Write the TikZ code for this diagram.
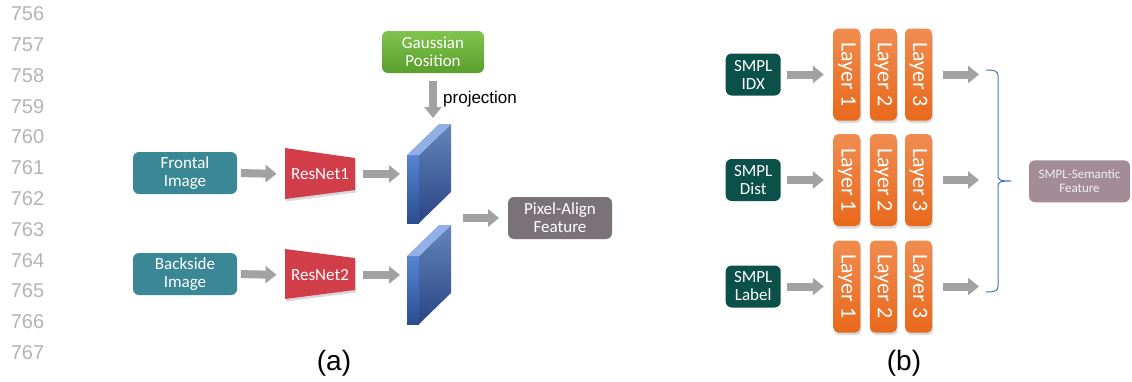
\documentclass[tikz,border=0pt]{standalone}
\usepackage{fontspec}
\setmainfont{Liberation Sans}
\newfontfamily\boxfont{Carlito}
\usepackage{graphicx}
\usetikzlibrary{arrows.meta,shadows}
\definecolor{lngray}{HTML}{B4B4B4}
\definecolor{tealbox}{HTML}{3A8896}
\definecolor{smplbox}{HTML}{0B5149}
\definecolor{gaussl}{HTML}{80C34C}
\definecolor{gaussd}{HTML}{5A9E2E}
\definecolor{resred}{HTML}{D23D4A}
\definecolor{pixgray}{HTML}{797377}
\definecolor{semgray}{HTML}{A38C95}
\definecolor{orangel}{HTML}{F08C50}
\definecolor{oranged}{HTML}{E8691C}
\definecolor{arrgray}{HTML}{A2A2A2}
\definecolor{bracecol}{HTML}{4472C4}
\definecolor{slabfl}{HTML}{5585D5}
\definecolor{slabfd}{HTML}{2C4D90}
\definecolor{slabsl}{HTML}{6585BA}
\definecolor{slabsd}{HTML}{2A4585}
\definecolor{slabtop}{HTML}{92B0E6}
\begin{document}
\begin{tikzpicture}[x=1pt,y=-1pt,
  box/.style={rounded corners=6pt, inner sep=0pt, text=white, align=center,
    font=\boxfont\fontsize{17}{18}\selectfont},
  layerbox/.style={rounded corners=5pt, inner sep=0pt, minimum width=27pt,
    minimum height=92pt, top color=orangel, bottom color=oranged, text=white,
    font=\boxfont\fontsize{22}{24}\selectfont,
    drop shadow={opacity=0.3, shadow xshift=1pt, shadow yshift=-2.5pt}},
  bigarrow/.style={line width=8pt, draw=arrgray, -{Triangle[length=11pt,width=17pt]}},
  lnum/.style={text=lngray, font=\fontsize{20}{22}\selectfont, inner sep=0pt},
  sublabel/.style={font=\fontsize{28}{30}\selectfont, inner sep=0pt},
  smpl/.style={box, fill=smplbox, minimum width=55pt, minimum height=42pt},
]
\useasboundingbox (0,0) rectangle (1132,381);

% line numbers
\foreach \i in {0,...,11}{
  \pgfmathtruncatemacro{\num}{756+\i}
  \node[lnum] (ln\i) at (27.5,{13.8+30.8*\i}) {\num};
}

% ---------- panel (a) ----------
\node[box, top color=gaussl, bottom color=gaussd, minimum width=102pt, minimum height=42pt] (gauss) at (433,52) {Gaussian\\Position};
\node[anchor=west, inner sep=0pt, font=\fontsize{17}{19}\selectfont] (proj) at (443,99) {projection};

\node[box, fill=tealbox, minimum width=104pt, minimum height=42pt] (front) at (185,173) {Frontal\\Image};
\node[box, fill=tealbox, minimum width=104pt, minimum height=42pt] (back) at (185,274) {Backside\\Image};

\fill[resred, drop shadow={opacity=0.3, shadow xshift=1pt, shadow yshift=-2.5pt}]
  (285,148) -- (355,158) -- (355,190) -- (285,199) -- cycle;
\node[inner sep=0pt, minimum width=70pt, minimum height=30pt, text=white,
  font=\boxfont\fontsize{17}{18}\selectfont] (r1) at (320,174) {ResNet1};
\fill[resred, drop shadow={opacity=0.3, shadow xshift=1pt, shadow yshift=-2.5pt}]
  (285,249) -- (355,258) -- (355,290) -- (285,299) -- cycle;
\node[inner sep=0pt, minimum width=70pt, minimum height=30pt, text=white,
  font=\boxfont\fontsize{17}{18}\selectfont] (r2) at (320,275) {ResNet2};

% feature slabs
\foreach \dy in {0,101}{
  \shade[top color=slabsl, bottom color=slabsd]
    (419,{155+\dy}) -- (451,{124+\dy}) -- (451,{192+\dy}) -- (419,{223+\dy}) -- cycle;
  \shade[top color=slabfl, bottom color=slabfd]
    (407,{155+\dy}) -- (419,{155+\dy}) -- (419,{223+\dy}) -- (407,{223+\dy}) -- cycle;
  \fill[slabtop]
    (407,{155+\dy}) -- (439,{124+\dy}) -- (451,{124+\dy}) -- (419,{155+\dy}) -- cycle;
}
\coordinate (s1in) at (407,174);
\coordinate (s2in) at (407,275);
\coordinate (s1top) at (433,124);
\coordinate (sout) at (451,218);

\node[box, fill=pixgray, minimum width=104pt, minimum height=42pt] (pix) at (560,218) {Pixel-Align\\Feature};

\draw[bigarrow, shorten <=8pt, shorten >=6pt] (gauss.south) -- (s1top);
\draw[bigarrow, shorten <=3.7pt, shorten >=8.3pt] (front.east) -- (r1.west);
\draw[bigarrow, shorten <=3.7pt, shorten >=8.3pt] (back.east) -- (r2.west);
\draw[bigarrow, shorten <=8pt, shorten >=7pt] (r1.east) -- (s1in);
\draw[bigarrow, shorten <=8pt, shorten >=7pt] (r2.east) -- (s2in);
\draw[bigarrow, shorten <=11.7pt, shorten >=8.7pt] (sout) -- (pix.west);

\node[sublabel] (la) at (334,363) {(a)};

% ---------- panel (b) ----------
\foreach \r/\y/\t in {1/74.5/{SMPL\\IDX},2/180/{SMPL\\Dist},3/286.5/{SMPL\\Label}}{
  \node[smpl] (s\r) at (753.2,\y) {\t};
  \node[layerbox] (l\r1) at (846.8,\y) {\rotatebox{-90}{Layer 1}};
  \node[layerbox] (l\r2) at (883.3,\y) {\rotatebox{-90}{Layer 2}};
  \node[layerbox] (l\r3) at (918.5,\y) {\rotatebox{-90}{Layer 3}};
  \coordinate (b\r) at (986,\y);
  \draw[bigarrow, shorten <=6.3pt, shorten >=9.3pt] (s\r.east) -- (l\r1.west);
  \draw[bigarrow, shorten <=10.7pt, shorten >=7pt] (l\r3.east) -- (b\r);
}

% brace
\draw[bracecol, line width=1pt]
  (986,70) .. controls (995,70) and (998,71) .. (998,76)
  -- (998,176) .. controls (998,180) and (1000,181) .. (1011,181)
  .. controls (1000,181) and (998,182) .. (998,186)
  -- (998,286) .. controls (998,291) and (995,292) .. (986,292);

\node[box, fill=semgray, minimum width=101pt, minimum height=42pt, text=white!94!black,
  font=\boxfont\fontsize{13}{14}\selectfont] (sem) at (1079.5,181.3) {SMPL-Semantic\\Feature};

\node[sublabel] (lb) at (904,363) {(b)};
\end{tikzpicture}
\end{document}
